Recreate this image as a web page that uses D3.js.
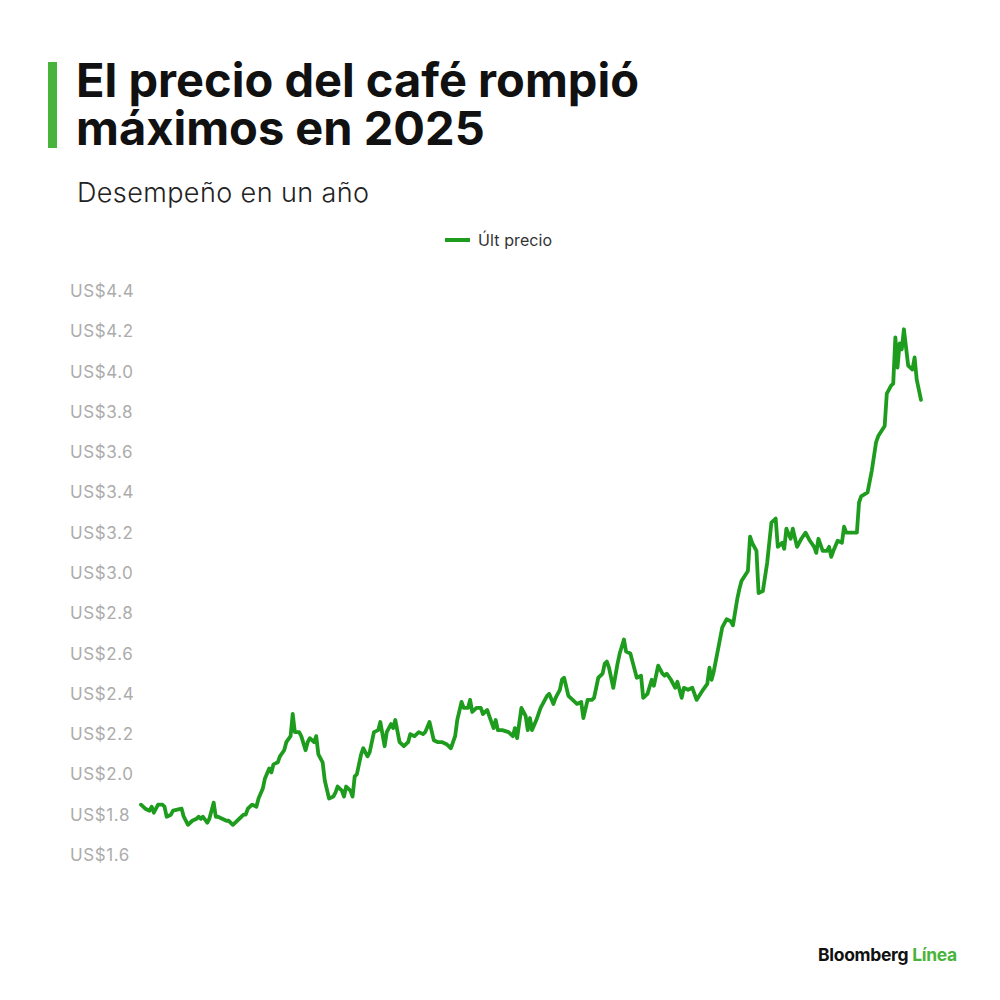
<!DOCTYPE html>
<html>
<head>
<meta charset="utf-8">
<script src="https://cdn.jsdelivr.net/npm/d3@7"></script>
<style>
  html, body { margin: 0; padding: 0; background: #ffffff; }
  svg { display: block; }
</style>
</head>
<body>
<svg id="chart" width="1000" height="1000"></svg>
<script>
// ---- Data ----
const titleLines = ["El precio del café rompió", "máximos en 2025"];
const subtitle = "Desempeño en un año";
const seriesName = "Últ precio";
const yTicks = [1.6, 1.8, 2.0, 2.2, 2.4, 2.6, 2.8, 3.0, 3.2, 3.4, 3.6, 3.8, 4.0, 4.2, 4.4];
// days since start of the one-year window
const days = [0,2,4,5,6,8,10,11,12,14,15,19,20,22,24,26,27,28,29,31,32,34,35,36,38,40,41,43,44,46,48,49,50,52,54,55,57,58,60,61,62,64,65,67,68,70,71,72,74,75,77,78,79,81,82,83,85,86,88,90,91,92,94,95,96,98,99,100,101,103,104,106,107,109,111,112,114,115,117,118,119,121,123,125,126,128,130,132,133,135,137,139,141,143,145,147,148,150,151,153,154,155,157,159,160,162,163,165,166,167,169,172,174,175,176,178,180,181,182,183,185,187,188,190,191,193,194,196,197,198,200,202,204,206,207,209,211,212,214,216,217,218,219,221,223,224,226,227,229,230,232,234,235,237,239,240,242,244,245,246,248,250,251,253,254,256,258,260,263,265,266,267,268,270,272,274,276,277,279,280,281,284,285,286,288,289,291,293,295,296,297,298,300,301,302,304,305,307,309,311,313,315,316,317,319,321,322,323,324,326,328,329,330,333,335,336,337,340,342,344,345,348,349,351,352,353,354,355,356,357,359,361,362,363,365];
const prices = [1.85,1.83,1.82,1.84,1.81,1.85,1.85,1.84,1.79,1.80,1.82,1.83,1.79,1.75,1.77,1.78,1.79,1.78,1.79,1.76,1.78,1.86,1.79,1.79,1.78,1.77,1.77,1.75,1.76,1.78,1.80,1.80,1.83,1.85,1.84,1.88,1.93,1.98,2.03,2.01,2.05,2.06,2.09,2.12,2.16,2.19,2.30,2.21,2.21,2.19,2.12,2.16,2.18,2.16,2.19,2.10,2.06,1.97,1.88,1.89,1.91,1.94,1.92,1.89,1.94,1.92,1.89,1.99,2.00,2.10,2.13,2.09,2.11,2.21,2.22,2.26,2.14,2.21,2.25,2.23,2.27,2.16,2.14,2.16,2.20,2.19,2.21,2.20,2.21,2.26,2.17,2.16,2.16,2.15,2.13,2.19,2.27,2.36,2.33,2.33,2.37,2.31,2.33,2.33,2.30,2.32,2.29,2.23,2.27,2.22,2.22,2.21,2.19,2.23,2.18,2.33,2.29,2.22,2.28,2.22,2.27,2.33,2.35,2.39,2.40,2.35,2.38,2.42,2.47,2.48,2.39,2.37,2.35,2.36,2.28,2.37,2.37,2.38,2.48,2.50,2.55,2.56,2.53,2.43,2.55,2.60,2.67,2.61,2.60,2.56,2.48,2.49,2.38,2.40,2.47,2.44,2.54,2.50,2.49,2.50,2.47,2.43,2.46,2.38,2.43,2.42,2.43,2.37,2.42,2.45,2.53,2.47,2.51,2.62,2.73,2.77,2.76,2.74,2.87,2.92,2.96,3.01,3.18,3.15,3.11,2.90,2.91,3.05,3.25,3.26,3.27,3.13,3.15,3.12,3.22,3.17,3.22,3.13,3.17,3.20,3.16,3.13,3.10,3.17,3.11,3.11,3.13,3.08,3.11,3.16,3.15,3.23,3.20,3.20,3.20,3.35,3.38,3.40,3.51,3.65,3.68,3.73,3.89,3.93,3.94,4.17,4.02,4.14,4.11,4.21,4.03,4.01,4.07,3.96,3.86];

// ---- Drawing ----
const svg = d3.select("#chart");
const green = "#1e9c1e";
const brandGreen = "#48b43c";
const font = "Inter, 'Liberation Sans', sans-serif";

// title accent bar
svg.append("rect").attr("x", 48).attr("y", 62).attr("width", 9).attr("height", 86).attr("fill", brandGreen);

svg.selectAll("text.title").data(titleLines).join("text")
  .attr("class", "title")
  .attr("x", 76).attr("y", (d, i) => 97 + i * 48)
  .attr("font-family", font)
  .attr("font-weight", 700).attr("font-size", 47)
  .attr("letter-spacing", 0)
  .attr("fill", "#111").text(d => d);

svg.append("text").attr("x", 77).attr("y", 202)
  .attr("font-family", font)
  .attr("font-weight", 300).attr("font-size", 27).attr("letter-spacing", 0.4)
  .attr("fill", "#222").text(subtitle);

// legend
svg.append("line").attr("x1", 445).attr("x2", 470).attr("y1", 240).attr("y2", 240)
  .attr("stroke", green).attr("stroke-width", 4);
svg.append("text").attr("x", 478).attr("y", 245.5)
  .attr("font-family", font)
  .attr("font-size", 16).attr("letter-spacing", 0.1).attr("fill", "#333").text(seriesName);

// scales
const x = d3.scaleLinear().domain([0, 365]).range([141, 921]);
const y = d3.scaleLinear().domain([1.6, 4.4]).range([855, 291]);

const yAxis = d3.axisLeft(y).tickValues(yTicks).tickSize(0).tickPadding(0)
  .tickFormat(d => "US$" + d3.format(".1f")(d));
const gy = svg.append("g").attr("transform", "translate(70,0)").call(yAxis);
gy.select(".domain").remove();
gy.selectAll("text")
  .attr("text-anchor", "start")
  .attr("font-family", font)
  .attr("font-size", 17).attr("letter-spacing", 0.6)
  .attr("fill", "#acacac");

const data = days.map((d, i) => ({ d, v: prices[i] }));
const line = d3.line().x(p => x(p.d)).y(p => y(p.v));
svg.append("path").datum(data)
  .attr("d", line).attr("fill", "none")
  .attr("stroke", green).attr("stroke-width", 3.8)
  .attr("stroke-linejoin", "round").attr("stroke-linecap", "round");

// brand
const brand = svg.append("text").attr("x", 818).attr("y", 961)
  .attr("font-family", font)
  .attr("font-weight", 700).attr("font-size", 17.5).attr("letter-spacing", -0.3);
brand.append("tspan").attr("fill", "#111").text("Bloomberg ");
brand.append("tspan").attr("fill", brandGreen).text("Línea");
</script>
</body>
</html>
